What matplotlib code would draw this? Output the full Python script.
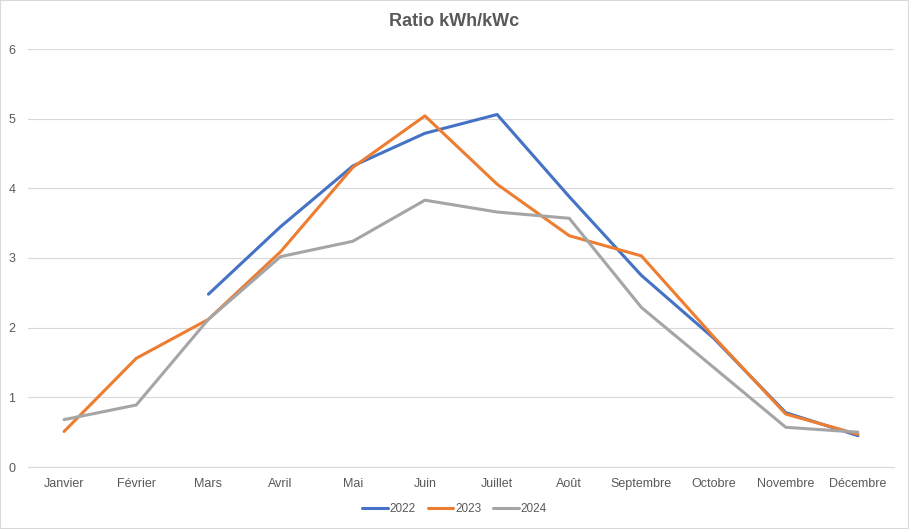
import numpy as np
import matplotlib.pyplot as plt
from matplotlib.patches import Rectangle

plt.rcParams["font.family"] = ["Liberation Sans", "DejaVu Sans"]

mois = ["Janvier", "Février", "Mars", "Avril", "Mai", "Juin", "Juillet",
        "Août", "Septembre", "Octobre", "Novembre", "Décembre"]
r2022 = [np.nan, np.nan, 2.48, 3.45, 4.32, 4.79, 5.06, 3.88, 2.75, 1.85, 0.78, 0.45]
r2023 = [0.51, 1.56, 2.12, 3.09, 4.30, 5.04, 4.06, 3.32, 3.03, 1.87, 0.76, 0.47]
r2024 = [0.68, 0.89, 2.12, 3.02, 3.24, 3.83, 3.66, 3.57, 2.29, 1.43, 0.57, 0.50]

fig = plt.figure(figsize=(9.09, 5.29), dpi=100)
ax = fig.add_axes([28/909, 1 - 467/529, 866/909, 418/529])

x = np.arange(len(mois))
ax.plot(x, r2022, color="#4472C4", lw=2.2, label="2022", solid_capstyle="round")
ax.plot(x, r2023, color="#ED7D31", lw=2.2, label="2023", solid_capstyle="round")
ax.plot(x, r2024, color="#A5A5A5", lw=2.2, label="2024", solid_capstyle="round")

ax.set_xlim(-0.5, 11.5)
ax.set_ylim(0, 6)
ax.set_yticks(range(0, 7))
ax.set_xticks(x)
ax.set_xticklabels(mois)
ax.grid(axis="y", color="#D9D9D9", lw=0.8)
ax.set_axisbelow(True)
for s in ["top", "right", "left"]:
    ax.spines[s].set_visible(False)
ax.spines["bottom"].set_color("#D9D9D9")
ax.tick_params(axis="both", length=0, labelsize=9, colors="#595959")
ax.tick_params(axis="x", pad=8)
ax.tick_params(axis="y", pad=9)

fig.text(0.5, 1 - 22/529, "Ratio kWh/kWc", ha="center", va="center",
         fontsize=13, fontweight="bold", color="#595959")

fig.legend(loc="center", bbox_to_anchor=(0.5, 1 - 509/529), ncol=3, frameon=False,
           fontsize=8.5, labelcolor="#595959", handlelength=2.2, columnspacing=1.0,
           handletextpad=0.15)

fig.patches.append(Rectangle((0, 0), 1, 1, transform=fig.transFigure, fill=False,
                             edgecolor="#D9D9D9", lw=1.5))

plt.savefig("out.png", dpi=100)
